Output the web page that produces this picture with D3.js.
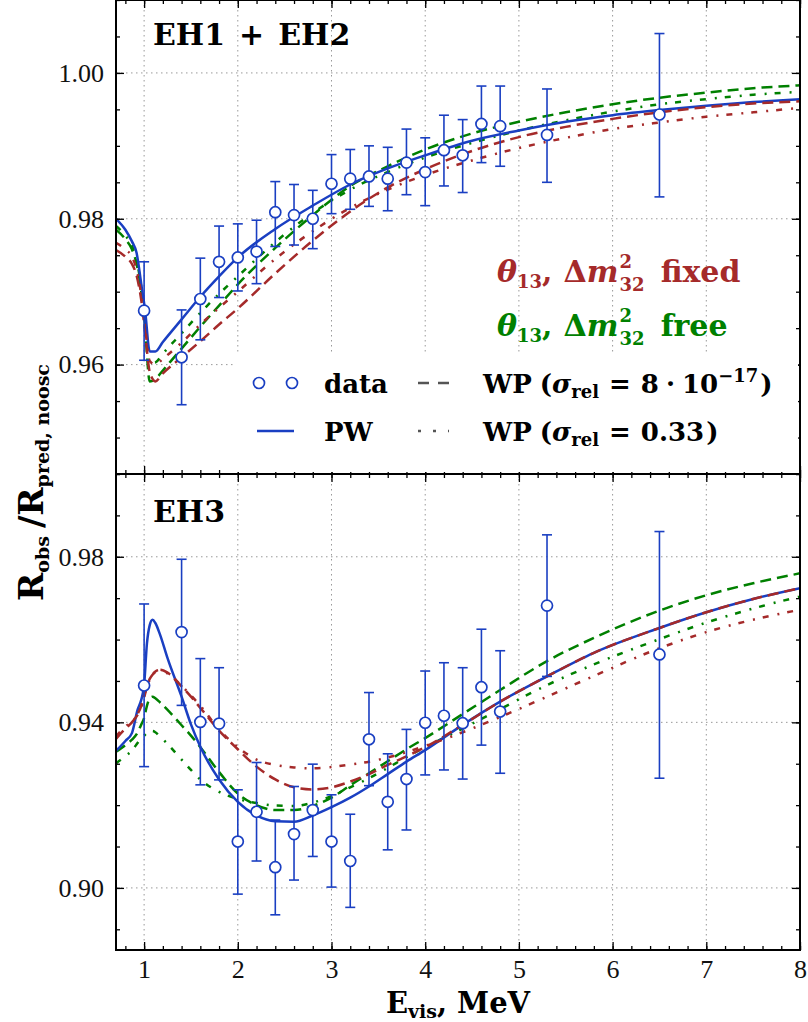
<!DOCTYPE html>
<html>
<head>
<meta charset="utf-8">
<script src="https://cdn.jsdelivr.net/npm/d3@7"></script>
<style>body{margin:0;background:#fff}</style>
</head>
<body>
<script>
// tick values
const xTicks = [1, 2, 3, 4, 5, 6, 7, 8];
const topYTicks = [0.96, 0.98, 1.00];
const botYTicks = [0.90, 0.94, 0.98];

// data bins (MeV)
const binE = [1.0, 1.4, 1.6, 1.8, 2.0, 2.2, 2.4, 2.6, 2.8, 3.0, 3.2, 3.4, 3.6, 3.8, 4.0, 4.2, 4.4, 4.6, 4.8, 5.3, 6.5];

// EH1 + EH2 data
const nearVal = [.9674, .9610, .9690, .9741, .9747, .9755, .9809, .9805, .9800, .9848, .9855, .9858, .9855, .9877, .9864, .9894, .9887, .9930, .9927, .9915, .9943];
const nearLo  = [.9606, .9545, .9634, .9692, .9701, .9711, .9762, .9764, .9759, .9807, .9813, .9817, .9811, .9833, .9818, .9845, .9836, .9877, .9872, .9850, .9830];
const nearHi  = [.9741, .9675, .9746, .9790, .9793, .9798, .9851, .9847, .9839, .9888, .9895, .9900, .9898, .9923, .9911, .9942, .9936, .9982, .9982, .9978, 1.0054];

// EH3 data
const farVal = [.9489, .9618, .9401, .9397, .9112, .9184, .9050, .9130, .9188, .9112, .9065, .9359, .9208, .9263, .9399, .9416, .9398, .9485, .9426, .9682, .9564];
const farLo  = [.9293, .9441, .9249, .9261, .8985, .9065, .8935, .9019, .9076, .9002, .8953, .9247, .9092, .9140, .9273, .9285, .9263, .9345, .9277, .9511, .9265];
const farHi  = [.9686, .9794, .9554, .9532, .9237, .9303, .9164, .9245, .9299, .9225, .9178, .9472, .9324, .9383, .9524, .9544, .9532, .9625, .9573, .9853, .9861];

// model curves, EH1 + EH2
const nearE = [0.7, 0.8, 0.87, 0.92, 0.97, 1.01, 1.06, 1.12, 1.2, 1.4, 1.6, 1.8, 2.0, 2.4, 2.8, 3.2, 3.6, 4.0, 4.5, 5.0, 5.5, 6.0, 6.5, 7.0, 7.5, 8.0];
const nearPW       = [.9800, .9785, .9769, .9753, .9710, .9675, .9618, .9618, .9631, .9662, .9693, .9721, .9747, .9786, .9818, .9847, .9869, .9887, .9907, .9921, .9933, .9942, .9949, .9955, .9960, .9964];
const nearFreeWP0  = [.9785, .9772, .9758, .9738, .9700, .9650, .9577, .9580, .9592, .9622, .9652, .9681, .9710, .9760, .9805, .9845, .9872, .9895, .9917, .9933, .9946, .9957, .9966, .9973, .9979, .9983];
const nearFreeWP   = [.9790, .9777, .9763, .9743, .9705, .9655, .9602, .9603, .9615, .9643, .9671, .9697, .9721, .9768, .9808, .9840, .9864, .9884, .9904, .9921, .9935, .9947, .9957, .9964, .9970, .9974];
const nearFixWP0   = [.9757, .9748, .9738, .9722, .9688, .9645, .9590, .9577, .9588, .9610, .9632, .9655, .9677, .9725, .9770, .9810, .9843, .9868, .9893, .9912, .9926, .9937, .9946, .9953, .9958, .9961];
const nearFixWP    = [.9767, .9758, .9748, .9730, .9695, .9652, .9605, .9600, .9608, .9630, .9655, .9678, .9700, .9745, .9783, .9815, .9840, .9860, .9880, .9897, .9911, .9923, .9932, .9940, .9946, .9952];

// model curves, EH3
const farE = [0.7, 0.8, 0.87, 0.93, 0.97, 1.0, 1.03, 1.06, 1.09, 1.12, 1.17, 1.25, 1.4, 1.5, 1.6, 1.8, 2.0, 2.2, 2.4, 2.6, 2.8, 3.0, 3.2, 3.4, 3.6, 3.8, 4.0, 4.4, 4.8, 5.3, 5.8, 6.5, 7.0, 7.5, 8.0];
const farPW      = [.9331, .9355, .9374, .9430, .9455, .9490, .9590, .9635, .9648, .9640, .9612, .9555, .9462, .9395, .9341, .9262, .9208, .9175, .9161, .9160, .9175, .9195, .9218, .9245, .9275, .9305, .9333, .9394, .9450, .9511, .9568, .9628, .9666, .9698, .9724];
const farFixWP0  = [.9360, .9385, .9400, .9420, .9440, .9465, .9488, .9505, .9515, .9522, .9527, .9520, .9487, .9462, .9435, .9380, .9335, .9293, .9262, .9243, .9238, .9243, .9257, .9275, .9297, .9318, .9340, .9394, .9450, .9511, .9568, .9628, .9666, .9698, .9724];
const farFixWP   = [.9366, .9390, .9402, .9418, .9438, .9460, .9485, .9503, .9515, .9523, .9527, .9518, .9488, .9465, .9440, .9383, .9340, .9310, .9297, .9291, .9289, .9292, .9298, .9305, .9315, .9328, .9343, .9376, .9413, .9462, .9512, .9579, .9618, .9648, .9672];
const farFreeWP0 = [.9329, .9345, .9358, .9375, .9395, .9410, .9440, .9458, .9462, .9458, .9448, .9430, .9393, .9368, .9340, .9280, .9228, .9200, .9188, .9188, .9198, .9218, .9248, .9277, .9306, .9335, .9362, .9420, .9478, .9548, .9604, .9670, .9707, .9736, .9760];
const farFreeWP  = [.9301, .9318, .9332, .9350, .9362, .9368, .9374, .9378, .9379, .9376, .9366, .9348, .9310, .9285, .9262, .9232, .9215, .9205, .9199, .9198, .9206, .9222, .9243, .9265, .9290, .9316, .9340, .9385, .9432, .9490, .9540, .9601, .9641, .9675, .9704];

const BLUE = '#1a3fc2', BROWN = '#a52a2a', GREEN = '#008000';
const SERIF = 'DejaVu Serif';
const NUMF = 'Liberation Serif';

const W = 808, H = 1022;
const X0 = 116, X1 = 800;

const svg = d3.select('body').append('svg').attr('width', W).attr('height', H);

const x = d3.scaleLinear().domain([0.7, 8]).range([X0, X1]);

const panels = [
  {
    id: 'near', top: 0, bottom: 474,
    y: d3.scaleLinear().domain([0.945, 1.01]).range([474, 0]),
    yTicks: topYTicks,
    yMinor: d3.range(189, 203).map(i => i * 0.005),
    E: nearE,
    curves: [
      {v: nearFreeWP0, c: GREEN, dash: '11,6'},
      {v: nearFreeWP,  c: GREEN, dash: '6,9,2,8'},
      {v: nearPW,      c: BLUE,  dash: null},
      {v: nearFixWP0,  c: BROWN, dash: '11,6'},
      {v: nearFixWP,   c: BROWN, dash: '6,9,2,8'}
    ],
    val: nearVal, lo: nearLo, hi: nearHi
  },
  {
    id: 'far', top: 474, bottom: 950,
    y: d3.scaleLinear().domain([0.885, 1.0]).range([950, 474]),
    yTicks: botYTicks,
    yMinor: d3.range(89, 101).map(i => i * 0.01),
    E: farE,
    curves: [
      {v: farFreeWP0, c: GREEN, dash: '11,6'},
      {v: farFreeWP,  c: GREEN, dash: '6,9,2,8'},
      {v: farPW,      c: BLUE,  dash: null},
      {v: farFixWP0,  c: BROWN, dash: '11,6'},
      {v: farFixWP,   c: BROWN, dash: '6,9,2,8'}
    ],
    val: farVal, lo: farLo, hi: farHi
  }
];

const xMinor = d3.range(4, 41).map(i => i * 0.2);

// lays out pieces of text one after another (sub/superscripts)
function rich(parent, x0, y0, parts, base) {
  const g = parent.append('g');
  let cx = x0, pend = 0;
  parts.forEach(p => {
    const o = Object.assign({}, base, p);
    const t = g.append('text')
      .attr('x', cx + (p.gap || 0))
      .attr('y', y0 + (p.dy || 0))
      .attr('font-family', o.fam || SERIF)
      .attr('font-size', o.s)
      .attr('font-weight', o.w || 'bold')
      .attr('font-style', p.it ? 'italic' : 'normal')
      .attr('fill', o.fill || '#000')
      .text(p.t);
    const w = t.node().getComputedTextLength() + (p.gap || 0);
    if (p.stack) pend = Math.max(pend, w);
    else { cx += Math.max(w, pend); pend = 0; }
  });
  return {g: g, width: cx - x0};
}

panels.forEach(p => {
  const y = p.y;
  const g = svg.append('g');

  g.append('clipPath').attr('id', 'clip-' + p.id)
    .append('rect').attr('x', X0).attr('y', p.top).attr('width', X1 - X0).attr('height', p.bottom - p.top);

  // grid
  g.append('g').selectAll('line').data(xTicks).join('line')
    .attr('x1', d => x(d)).attr('x2', d => x(d))
    .attr('y1', p.top).attr('y2', p.bottom)
    .attr('stroke', '#999').attr('stroke-width', 1).attr('stroke-dasharray', '1.5,3.5');
  g.append('g').selectAll('line').data(p.yTicks).join('line')
    .attr('x1', X0).attr('x2', X1)
    .attr('y1', d => y(d)).attr('y2', d => y(d))
    .attr('stroke', '#999').attr('stroke-width', 1).attr('stroke-dasharray', '1.5,3.5');

  // model curves
  const cg = g.append('g').attr('clip-path', 'url(#clip-' + p.id + ')');
  p.curves.forEach(c => {
    const line = d3.line()
      .x((d, i) => x(p.E[i]))
      .y(d => y(d))
      .curve(d3.curveMonotoneX);
    cg.append('path')
      .attr('d', line(c.v))
      .attr('fill', 'none')
      .attr('stroke', c.c)
      .attr('stroke-width', 2.5)
      .attr('stroke-dasharray', c.dash);
  });

  // data with error bars
  const dg = g.append('g');
  binE.forEach((e, i) => {
    const px = x(e);
    dg.append('line').attr('x1', px).attr('x2', px)
      .attr('y1', y(p.lo[i])).attr('y2', y(p.hi[i]))
      .attr('stroke', BLUE).attr('stroke-width', 1.6);
    [p.lo[i], p.hi[i]].forEach(v => {
      dg.append('line').attr('x1', px - 5).attr('x2', px + 5)
        .attr('y1', y(v)).attr('y2', y(v))
        .attr('stroke', BLUE).attr('stroke-width', 1.6);
    });
  });
  dg.selectAll('circle').data(p.val).join('circle')
    .attr('cx', (d, i) => x(binE[i])).attr('cy', d => y(d)).attr('r', 5.5)
    .attr('fill', '#fff').attr('stroke', BLUE).attr('stroke-width', 1.7);

  // axes, ticks pointing inward
  const axes = [
    {a: d3.axisLeft(y).tickValues(p.yTicks).tickSize(-8).tickPadding(12).tickFormat(d3.format('.2f')), t: `translate(${X0},0)`},
    {a: d3.axisLeft(y).tickValues(p.yMinor).tickSize(-4).tickFormat(''), t: `translate(${X0},0)`},
    {a: d3.axisRight(y).tickValues(p.yTicks).tickSize(-8).tickFormat(''), t: `translate(${X1},0)`},
    {a: d3.axisRight(y).tickValues(p.yMinor).tickSize(-4).tickFormat(''), t: `translate(${X1},0)`},
    {a: d3.axisBottom(x).tickValues(xTicks).tickSize(-8).tickPadding(10).tickFormat(p.id === 'far' ? d3.format('d') : ''), t: `translate(0,${p.bottom})`},
    {a: d3.axisBottom(x).tickValues(xMinor).tickSize(-4).tickFormat(''), t: `translate(0,${p.bottom})`},
    {a: d3.axisTop(x).tickValues(xTicks).tickSize(-8).tickFormat(''), t: `translate(0,${p.top})`},
    {a: d3.axisTop(x).tickValues(xMinor).tickSize(-4).tickFormat(''), t: `translate(0,${p.top})`}
  ];
  axes.forEach(ax => {
    const ag = g.append('g').attr('transform', ax.t).call(ax.a);
    ag.select('.domain').remove();
    ag.selectAll('line').attr('stroke', '#000').attr('stroke-width', 1.3);
    ag.selectAll('text').attr('font-family', NUMF).attr('font-size', 26).attr('fill', '#111');
  });

  g.append('rect').attr('x', X0).attr('y', p.top).attr('width', X1 - X0).attr('height', p.bottom - p.top)
    .attr('fill', 'none').attr('stroke', '#000').attr('stroke-width', 2);
});

// panel titles
rich(svg, 153, 45, [{t: 'EH1'}, {t: '+', gap: 14}, {t: 'EH2', gap: 14}], {s: 30});
rich(svg, 153, 522, [{t: 'EH3'}], {s: 30});

// fixed / free annotations
[[BROWN, 282, 'fixed'], [GREEN, 336, 'free']].forEach(([col, by, word]) => {
  rich(svg, 497, by, [
    {t: 'θ', it: true},
    {t: '13', s: 18, dy: 6},
    {t: ','},
    {t: 'Δ', gap: 11},
    {t: 'm', it: true},
    {t: '2', s: 18, dy: -14, stack: true, gap: 1},
    {t: '32', s: 18, dy: 9, gap: 1},
    {t: word, gap: 16}
  ], {s: 30, fill: col});
});

// legend
const lg = svg.append('g');
lg.append('rect').attr('x', 236).attr('y', 352).attr('width', 562).attr('height', 120).attr('fill', '#fff');
[259, 292].forEach(cx => {
  lg.append('circle').attr('cx', cx).attr('cy', 383).attr('r', 5.5)
    .attr('fill', '#fff').attr('stroke', BLUE).attr('stroke-width', 1.7);
});
lg.append('line').attr('x1', 257).attr('x2', 294).attr('y1', 431).attr('y2', 431)
  .attr('stroke', BLUE).attr('stroke-width', 2.5);
lg.append('line').attr('x1', 418).attr('x2', 449).attr('y1', 383).attr('y2', 383)
  .attr('stroke', '#555').attr('stroke-width', 2.5).attr('stroke-dasharray', '11,9');
lg.append('line').attr('x1', 418).attr('x2', 449).attr('y1', 431).attr('y2', 431)
  .attr('stroke', '#555').attr('stroke-width', 2.5).attr('stroke-dasharray', '3,12');
rich(lg, 324, 393, [{t: 'data'}], {s: 26});
rich(lg, 324, 441, [{t: 'PW'}], {s: 26});
rich(lg, 483, 393, [
  {t: 'WP'}, {t: '(', gap: 8}, {t: 'σ', it: true}, {t: 'rel', s: 18, dy: 5},
  {t: '=', gap: 10}, {t: '8', gap: 10}, {t: '·', gap: 7}, {t: '10', gap: 7},
  {t: '−17', s: 18, dy: -11}, {t: ')', gap: 2}
], {s: 26});
rich(lg, 483, 441, [
  {t: 'WP'}, {t: '(', gap: 8}, {t: 'σ', it: true}, {t: 'rel', s: 18, dy: 5},
  {t: '=', gap: 10}, {t: '0.33', gap: 10}, {t: ')', gap: 2}
], {s: 26});

// x label, centred under the plot
const xl = rich(svg, 0, 1013, [{t: 'E'}, {t: 'vis', s: 19, dy: 5}, {t: ','}, {t: 'MeV', gap: 10}], {s: 29});
xl.g.attr('transform', `translate(${(X0 + X1) / 2 - xl.width / 2},0)`);

// y label, rotated
const yg = svg.append('g').attr('transform', 'translate(43,601) rotate(-90)');
rich(yg, 0, 0, [
  {t: 'R'}, {t: 'obs', s: 19, dy: 6},
  {t: '/', gap: 8},
  {t: 'R'}, {t: 'pred, noosc', s: 19, dy: 6}
], {s: 34});
</script>
</body>
</html>
